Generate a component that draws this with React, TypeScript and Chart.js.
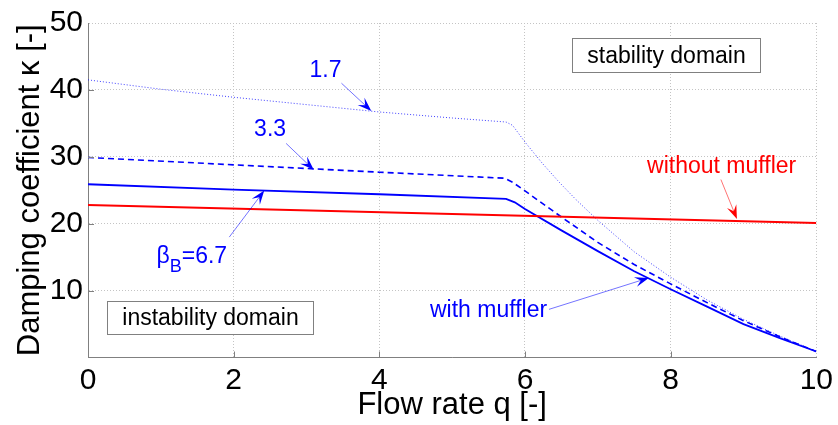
import React, { useEffect, useRef } from "react";
import { Chart, registerables } from "chart.js";

Chart.register(...registerables);

// ---- data ----
const qWithoutMuffler = [0, 10];
const kWithoutMuffler = [22.8, 20.1];

const qBeta67 = [0, 2, 4, 5.74, 5.86, 6, 6.5, 7, 7.5, 8, 8.5, 9, 9.5, 10];
const kBeta67 = [25.9, 25.1, 24.4, 23.7, 23.2, 22.2, 19.0, 15.9, 12.9, 10.2, 7.6, 5.0, 2.9, 0.9];

const qBeta33 = [0, 2, 4, 5.72, 5.83, 6, 6.5, 7, 7.5, 8, 8.5, 9, 9.5, 10];
const kBeta33 = [29.9, 28.8, 27.7, 26.8, 26.2, 24.9, 21.0, 17.2, 13.9, 11.0, 8.2, 5.5, 3.1, 0.9];

const qBeta17 = [0, 1, 2, 3, 4, 5, 5.74, 5.83, 6, 6.24, 6.47, 6.7, 7, 7.5, 8, 8.5, 9, 9.5, 10];
const kBeta17 = [41.5, 40.1, 38.9, 37.8, 36.7, 35.8, 35.2, 34.7, 32.2, 29.0, 26.2, 23.6, 20.5, 15.8, 12.0, 8.6, 5.7, 3.2, 0.9];

const xTickValues = [0, 2, 4, 6, 8, 10];
const yTickValues = [10, 20, 30, 40, 50];

const xTitle = "Flow rate q [-]";
const yTitle = "Damping coefficient \u03BA [-]";

const FONT = "'Liberation Sans', Arial, Helvetica, sans-serif";
const BLUE = "#0000ff";
const RED = "#ff0000";

// annotations in data coordinates
const arrowNotes = [
  { text: "1.7", color: BLUE, tx: 3.26, ty: 42.95, ax: 3.48, ay: 41.0, bx: 3.89, by: 36.85 },
  { text: "3.3", color: BLUE, tx: 2.5, ty: 34.0, ax: 2.72, ay: 32.0, bx: 3.1, by: 28.05 },
  { text: "with muffler", color: BLUE, tx: 5.5, ty: 7.0, ax: 6.33, ay: 7.2, bx: 7.7, by: 11.9 },
  { text: "without muffler", color: RED, tx: 8.7, ty: 28.5, ax: 8.69, ay: 26.6, bx: 8.91, by: 20.7 },
];
const betaNote = { main: "\u03B2", sub: "B", rest: "=6.7", tx: 0.94, ty: 14.2, ax: 1.94, ay: 18.0, bx: 2.42, by: 24.95 };
const boxNotes = [
  { text: "stability domain", x0: 6.64, x1: 9.22, y0: 47.8, y1: 42.7 },
  { text: "instability domain", x0: 0.26, x1: 3.09, y0: 8.5, y1: 3.5 },
];

const pts = (qs: number[], ks: number[]) => qs.map((q, i) => ({ x: q, y: ks[i] }));

function drawArrow(ctx: CanvasRenderingContext2D, x1: number, y1: number, x2: number, y2: number, color: string, lineColor: string) {
  const dx = x2 - x1, dy = y2 - y1;
  const len = Math.hypot(dx, dy) || 1;
  const ux = dx / len, uy = dy / len;
  const nx = -uy, ny = ux;
  const L = 14, W = 10;
  ctx.save();
  ctx.strokeStyle = lineColor;
  ctx.lineWidth = 1;
  ctx.beginPath();
  ctx.moveTo(x1, y1);
  ctx.lineTo(x2 - ux * L * 0.6, y2 - uy * L * 0.6);
  ctx.stroke();
  ctx.fillStyle = color;
  ctx.beginPath();
  ctx.moveTo(x2, y2);
  ctx.lineTo(x2 - ux * L + nx * W / 2, y2 - uy * L + ny * W / 2);
  ctx.lineTo(x2 - ux * L * 0.6, y2 - uy * L * 0.6);
  ctx.lineTo(x2 - ux * L - nx * W / 2, y2 - uy * L - ny * W / 2);
  ctx.closePath();
  ctx.fill();
  ctx.restore();
}

const annotationPlugin = {
  id: "annotations",
  afterDatasetsDraw(chart: any) {
    const { ctx, scales } = chart;
    const X = (v: number) => scales.x.getPixelForValue(v);
    const Y = (v: number) => scales.y.getPixelForValue(v);
    ctx.save();
    // inward ticks
    ctx.strokeStyle = "#808080";
    ctx.lineWidth = 1;
    const area = chart.chartArea;
    xTickValues.forEach((v) => {
      if (v === 0 || v === 10) return;
      const px = Math.round(X(v)) + 0.5;
      ctx.beginPath();
      ctx.moveTo(px, area.bottom);
      ctx.lineTo(px, area.bottom - 6);
      ctx.stroke();
    });
    yTickValues.forEach((v) => {
      if (v === 50) return;
      const py = Math.round(Y(v)) + 0.5;
      ctx.beginPath();
      ctx.moveTo(area.left, py);
      ctx.lineTo(area.left + 6, py);
      ctx.stroke();
    });

    // boxes
    boxNotes.forEach((b) => {
      const x0 = Math.round(X(b.x0)) + 0.5, x1 = Math.round(X(b.x1)) + 0.5;
      const y0 = Math.round(Y(b.y0)) + 0.5, y1 = Math.round(Y(b.y1)) + 0.5;
      ctx.fillStyle = "#ffffff";
      ctx.fillRect(x0, y0, x1 - x0, y1 - y0);
      ctx.strokeStyle = "#808080";
      ctx.lineWidth = 1;
      ctx.strokeRect(x0, y0, x1 - x0, y1 - y0);
      ctx.fillStyle = "#000000";
      ctx.font = `23px ${FONT}`;
      ctx.textAlign = "center";
      ctx.textBaseline = "middle";
      ctx.fillText(b.text, (x0 + x1) / 2, (y0 + y1) / 2 + 1);
    });

    // arrows with labels
    arrowNotes.forEach((a) => {
      const lineColor = a.color === RED ? "rgba(255,0,0,0.55)" : "rgba(0,0,255,0.55)";
      drawArrow(ctx, X(a.ax), Y(a.ay), X(a.bx), Y(a.by), a.color, lineColor);
      ctx.fillStyle = a.color;
      ctx.font = `23px ${FONT}`;
      ctx.textAlign = "center";
      ctx.textBaseline = "middle";
      ctx.fillText(a.text, X(a.tx), Y(a.ty));
    });

    // beta label
    drawArrow(ctx, X(betaNote.ax), Y(betaNote.ay), X(betaNote.bx), Y(betaNote.by), BLUE, "rgba(0,0,255,0.55)");
    ctx.fillStyle = BLUE;
    ctx.textAlign = "left";
    ctx.textBaseline = "alphabetic";
    let cx = X(betaNote.tx);
    const by = Y(betaNote.ty);
    ctx.font = `23px ${FONT}`;
    ctx.fillText(betaNote.main, cx, by);
    cx += ctx.measureText(betaNote.main).width;
    ctx.font = `18px ${FONT}`;
    ctx.fillText(betaNote.sub, cx, by + 9);
    cx += ctx.measureText(betaNote.sub).width;
    ctx.font = `23px ${FONT}`;
    ctx.fillText(betaNote.rest, cx, by);
    ctx.restore();
  },
};

export default function App() {
  const canvasRef = useRef<HTMLCanvasElement | null>(null);

  useEffect(() => {
    const canvas = canvasRef.current;
    if (!canvas) return;
    const chart = new Chart(canvas, {
      type: "line",
      data: {
        datasets: [
          {
            label: "without muffler",
            data: pts(qWithoutMuffler, kWithoutMuffler),
            borderColor: RED,
            borderWidth: 2,
            pointRadius: 0,
          },
          {
            label: "\u03B2B=1.7",
            data: pts(qBeta17, kBeta17),
            borderColor: "rgba(0,0,255,0.75)",
            borderWidth: 1,
            borderDash: [1, 2],
            pointRadius: 0,
            tension: 0,
          },
          {
            label: "\u03B2B=3.3",
            data: pts(qBeta33, kBeta33),
            borderColor: BLUE,
            borderWidth: 1.6,
            borderDash: [6, 4],
            pointRadius: 0,
            tension: 0,
          },
          {
            label: "\u03B2B=6.7",
            data: pts(qBeta67, kBeta67),
            borderColor: BLUE,
            borderWidth: 1.8,
            pointRadius: 0,
            tension: 0,
          },
        ],
      },
      options: {
        animation: false,
        responsive: false,
        events: [],
        layout: { padding: { top: 22, right: 18, left: 0, bottom: 0 } },
        plugins: {
          legend: { display: false },
          tooltip: { enabled: false },
          title: { display: false },
        },
        scales: {
          x: {
            type: "linear",
            min: 0,
            max: 10,
            afterBuildTicks: (scale: any) => {
              scale.ticks = xTickValues.map((v) => ({ value: v }));
            },
            afterFit: (scale: any) => {
              scale.height = 67.5;
            },
            ticks: {
              color: "#000",
              font: { family: FONT, size: 30 },
              padding: 5,
              maxRotation: 0,
              autoSkip: false,
            },
            grid: { color: "#c4c4c4", lineWidth: 1, drawTicks: false },
            border: { display: true, color: "#808080", width: 1, dash: [1, 2] },
            title: {
              display: true,
              text: xTitle,
              color: "#000",
              font: { family: FONT, size: 31 },
              padding: { top: 0, bottom: 1 },
            },
          },
          y: {
            type: "linear",
            min: 0,
            max: 50,
            afterBuildTicks: (scale: any) => {
              scale.ticks = [0, ...yTickValues].map((v) => ({ value: v }));
            },
            afterFit: (scale: any) => {
              scale.width = 88;
            },
            ticks: {
              color: "#000",
              font: { family: FONT, size: 30 },
              padding: 5,
              autoSkip: false,
              callback: (v: any) => (v === 0 ? "" : String(v)),
            },
            grid: { color: "#c4c4c4", lineWidth: 1, drawTicks: false },
            border: { display: true, color: "#808080", width: 1, dash: [1, 2] },
            title: {
              display: true,
              text: yTitle,
              color: "#000",
              font: { family: FONT, size: 31 },
              padding: { top: 12, bottom: 0 },
            },
          },
        },
      },
      plugins: [annotationPlugin],
    } as any);
    return () => chart.destroy();
  }, []);

  return (
    <div style={{ position: "absolute", left: 0, top: 0, width: 838, height: 425, background: "#fff" }}>
      <canvas ref={canvasRef} width={838} height={425} style={{ display: "block" }} />
    </div>
  );
}
